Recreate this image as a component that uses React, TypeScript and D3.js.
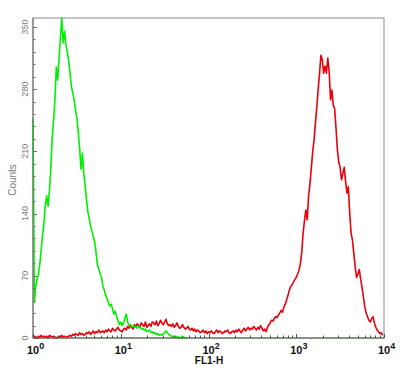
import React, { useEffect, useRef } from "react";
import * as d3 from "d3";

// 256 log channels spanning 10^0 .. 10^4
const channelCount = 256;
const decades = 4;

const greenCounts = [
  247, 40, 58, 66, 72, 84, 100, 116, 130, 150, 160, 148, 166, 190, 226, 245,
  268, 305, 290, 315, 338, 360, 332, 345, 330, 322, 312, 298, 283, 276, 268, 256,
  248, 232, 214, 190, 208, 186, 172, 156, 142, 134, 126, 120, 114, 108, 96, 82,
  78, 72, 68, 58, 54, 48, 44, 40, 36, 38, 33, 27, 30, 24, 20, 15,
  18, 14, 17, 22, 27, 18, 14, 15, 13, 14, 12, 13, 11, 13, 12, 10,
  11, 9, 10, 7, 8, 9, 6, 7, 5, 6, 4, 5, 3, 4, 3, 5,
  6, 8, 6, 4, 3, 2, 2, 1, 2, 1, 1, 0, 1, 0, 1, 0, 0,
];

const redCounts = [
  1, 2, 1, 0, 2, 1, 3, 1, 2, 1, 2, 0, 3, 2, 1, 2,
  1, 0, 1, 2, 1, 3, 1, 2, 1, 1, 2, 3, 2, 4, 3, 5,
  4, 3, 6, 4, 5, 3, 4, 6, 5, 7, 4, 6, 8, 5, 7, 6,
  9, 6, 7, 8, 6, 9, 7, 10, 8, 7, 11, 9, 8, 10, 12, 9,
  8, 7, 10, 11, 9, 13, 11, 14, 12, 10, 15, 13, 16, 14, 12, 17,
  15, 13, 18, 12, 14, 16, 13, 18, 17, 15, 19, 14, 16, 20, 17, 15,
  18, 21, 16, 14, 15, 13, 16, 12, 14, 17, 13, 11, 12, 15, 12, 10,
  11, 13, 10, 9, 11, 8, 10, 7, 9, 8, 6, 7, 9, 6, 8, 5,
  7, 6, 8, 6, 5, 7, 9, 6, 8, 7, 5, 6, 8, 7, 9, 6,
  5, 7, 8, 6, 9, 7, 10, 8, 6, 9, 11, 8, 10, 12, 9, 11,
  10, 13, 11, 9, 12, 10, 14, 11, 8, 10, 7, 12, 15, 17, 20, 19,
  22, 24, 23, 26, 28, 31, 29, 35, 38, 43, 48, 54, 58, 60, 63, 66,
  68, 72, 76, 84, 96, 118, 132, 144, 133, 160, 174, 191, 210, 223, 242, 260,
  280, 298, 318, 313, 298, 306, 298, 315, 300, 268, 279, 262, 258, 236, 212, 198,
  192, 178, 185, 192, 176, 163, 170, 140, 118, 110, 95, 80, 68, 72, 77, 66,
  57, 46, 35, 28, 24, 20, 18, 22, 24, 17, 12, 9, 7, 5, 6, 3,
];

const yTicks = [0, 70, 140, 210, 280, 350];
const xDecades = [0, 1, 2, 3, 4];

const App = () => {
  const svgRef = useRef<SVGSVGElement>(null);

  useEffect(() => {
    const W = 403;
    const H = 371;
    const left = 33;
    const right = 384;
    const top = 18;
    const bottom = 338;

    const svg = d3.select(svgRef.current).attr("width", W).attr("height", H);
    svg.selectAll("*").remove();

    const x = d3.scaleLog().domain([1, 10000]).range([left, right]);
    const y = d3.scaleLinear().domain([0, 360]).range([bottom, top]);

    const chValue = (i: number) => Math.pow(10, (i * decades) / channelCount);

    // frame
    svg
      .append("rect")
      .attr("x", left)
      .attr("y", top)
      .attr("width", right - left)
      .attr("height", bottom - top)
      .attr("fill", "none")
      .attr("stroke", "#8a8a8a")
      .attr("stroke-width", 1);

    const line = d3
      .line<number>()
      .x((d, i) => x(chValue(i)))
      .y((d) => y(d));

    const plot = svg.append("g");

    plot
      .append("path")
      .datum(redCounts)
      .attr("d", line)
      .attr("fill", "none")
      .attr("stroke", "#e8000c")
      .attr("stroke-width", 1.6)
      .attr("stroke-linejoin", "round");

    plot
      .append("path")
      .datum(greenCounts)
      .attr("d", line)
      .attr("fill", "none")
      .attr("stroke", "#00f000")
      .attr("stroke-width", 1.6)
      .attr("stroke-linejoin", "round");

    // axis lines
    svg
      .append("line")
      .attr("x1", left)
      .attr("x2", left)
      .attr("y1", top)
      .attr("y2", bottom)
      .attr("stroke", "#6e6e6e");
    svg
      .append("line")
      .attr("x1", left)
      .attr("x2", right)
      .attr("y1", bottom)
      .attr("y2", bottom)
      .attr("stroke", "#4a5a4a");

    // y minor + major ticks (inward)
    const yMinor = d3.range(0, 361, 14);
    svg
      .append("g")
      .selectAll("line")
      .data(yMinor)
      .enter()
      .append("line")
      .attr("x1", left)
      .attr("x2", (d) => left + (d % 70 === 0 ? 4 : 2.5))
      .attr("y1", (d) => Math.round(y(d)) + 0.5)
      .attr("y2", (d) => Math.round(y(d)) + 0.5)
      .attr("stroke", "#6e6e6e");

    svg
      .append("g")
      .selectAll("text")
      .data(yTicks)
      .enter()
      .append("text")
      .attr("transform", (d) => `translate(28,${y(d)}) rotate(-90)`)
      .attr("text-anchor", "middle")
      .style("font-family", "'Liberation Sans', Arial, sans-serif")
      .style("font-size", "9px")
      .style("fill", "#7a7a7a")
      .text((d) => d);

    svg
      .append("text")
      .attr("transform", `translate(15.5,180) rotate(-90)`)
      .attr("text-anchor", "middle")
      .style("font-family", "'Liberation Sans', Arial, sans-serif")
      .style("font-size", "10px")
      .style("fill", "#7a7a7a")
      .text("Counts");

    // x log ticks (inward)
    const xMinor: number[] = [];
    for (let e = 0; e < 4; e++) {
      for (let m = 1; m < 10; m++) xMinor.push(m * Math.pow(10, e));
    }
    xMinor.push(10000);
    svg
      .append("g")
      .selectAll("line")
      .data(xMinor)
      .enter()
      .append("line")
      .attr("x1", (d) => Math.round(x(d)) + 0.5)
      .attr("x2", (d) => Math.round(x(d)) + 0.5)
      .attr("y1", bottom)
      .attr("y2", (d) => bottom - (Number.isInteger(Math.log10(d)) ? 4 : 2.5))
      .attr("stroke", "#4a5a4a");

    const xl = svg
      .append("g")
      .selectAll("text")
      .data(xDecades)
      .enter()
      .append("text")
      .attr("x", (d) => x(Math.pow(10, d)) - 6)
      .attr("y", 354)
      .attr("text-anchor", "start")
      .style("font-family", "'Liberation Sans', Arial, sans-serif")
      .style("font-weight", "bold")
      .style("font-size", "11px")
      .style("fill", "#111");
    xl.append("tspan").text("10");
    xl.append("tspan")
      .attr("dy", -5)
      .style("font-size", "9px")
      .text((d) => d);

    svg
      .append("text")
      .attr("x", 209)
      .attr("y", 364)
      .attr("text-anchor", "middle")
      .style("font-family", "'Liberation Sans', Arial, sans-serif")
      .style("font-weight", "bold")
      .style("font-size", "10px")
      .style("fill", "#111")
      .text("FL1-H");
  }, []);

  return (
    <svg
      ref={svgRef}
      style={{ position: "absolute", left: 0, top: 0, background: "#fff" }}
    ></svg>
  );
};

export default App;
